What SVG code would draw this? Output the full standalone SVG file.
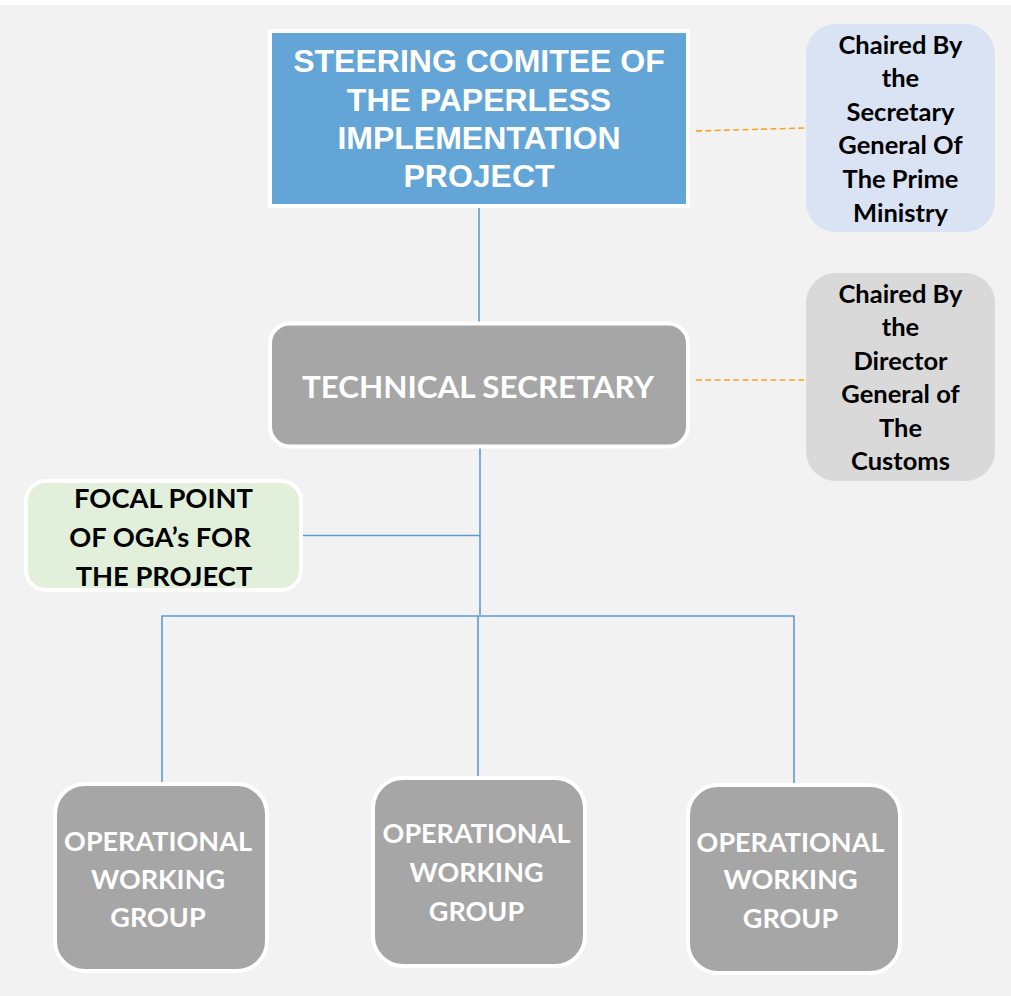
<svg xmlns="http://www.w3.org/2000/svg" width="1011" height="996" viewBox="0 0 1011 996">
<style>
.conn{fill:none;stroke:#5b9bd5;stroke-width:1.6}
.dash{fill:none;stroke:#f5a21f;stroke-width:1.6;stroke-dasharray:6 3.3}
.box{stroke:#ffffff;stroke-width:4}
.grey{fill:#a6a6a6}
.wt{fill:#ffffff;font-family:Lato,"Open Sans",sans-serif;font-weight:bold;text-anchor:middle}
.bt{fill:#000000;font-family:Lato,"Open Sans",sans-serif;font-weight:bold;text-anchor:middle}
.at{fill:#ffffff;font-family:"Liberation Sans",Arial,sans-serif;font-weight:bold;text-anchor:middle;font-size:32px}
</style>
<rect x="0" y="0" width="1011" height="996" fill="#ffffff"/>
<rect x="0" y="5" width="1011" height="991" fill="#f2f2f2"/>
<g id="connectors">
<line class="conn" x1="479" y1="208" x2="479" y2="323"/>
<polyline class="conn" points="480,447 480,615"/>
<line class="conn" x1="302" y1="535.5" x2="480" y2="535.5"/>
<polyline class="conn" points="162,783 162,616 794,616 794,785"/>
<line class="conn" x1="478" y1="616" x2="478" y2="778"/>
<line class="dash" x1="696" y1="131" x2="805" y2="128"/>
<line class="dash" x1="696" y1="380" x2="805" y2="380"/>
</g>
<g id="steering">
<rect class="box" x="270" y="31" width="418" height="175" fill="#62a5d6"/>
<text class="at" x="479" y="72">STEERING COMITEE OF</text>
<text class="at" x="479" y="110.5">THE PAPERLESS</text>
<text class="at" x="479" y="149">IMPLEMENTATION</text>
<text class="at" x="479" y="187">PROJECT</text>
</g>
<g id="chair1">
<rect x="806" y="24" width="189" height="208" rx="30" fill="#dae3f3"/>
<g class="bt" font-size="25.5">
<text x="900.5" y="54">Chaired By</text>
<text x="900.5" y="87">the</text>
<text x="900.5" y="121">Secretary</text>
<text x="900.5" y="154">General Of</text>
<text x="900.5" y="188">The Prime</text>
<text x="900.5" y="221.5">Ministry</text>
</g>
</g>
<g id="technical">
<rect class="box grey" x="270" y="323.5" width="418" height="123" rx="20"/>
<text class="wt" x="478" y="398" font-size="31.4">TECHNICAL SECRETARY</text>
</g>
<g id="chair2">
<rect x="806" y="273" width="189" height="208" rx="30" fill="#d9d9d9"/>
<g class="bt" font-size="25.5">
<text x="900.5" y="303">Chaired By</text>
<text x="900.5" y="336">the</text>
<text x="900.5" y="370">Director</text>
<text x="900.5" y="403">General of</text>
<text x="900.5" y="437">The</text>
<text x="900.5" y="470">Customs</text>
</g>
</g>
<g id="focal">
<rect class="box" x="26" y="481" width="275" height="109" rx="20" fill="#e2efda"/>
<g class="bt" font-size="27.3">
<text x="163.5" y="508">FOCAL POINT</text>
<text x="160" y="547">OF OGA’s FOR</text>
<text x="164" y="586">THE PROJECT</text>
</g>
</g>
<g id="owg1">
<rect class="box grey" x="55" y="784" width="212" height="187" rx="30"/>
<g class="wt" font-size="27">
<text x="158" y="851">OPERATIONAL</text>
<text x="158" y="889">WORKING</text>
<text x="158" y="927">GROUP</text>
</g>
</g>
<g id="owg2">
<rect class="box grey" x="373" y="778" width="212" height="188" rx="30"/>
<g class="wt" font-size="27">
<text x="476.5" y="843">OPERATIONAL</text>
<text x="476.5" y="882">WORKING</text>
<text x="476.5" y="921">GROUP</text>
</g>
</g>
<g id="owg3">
<rect class="box grey" x="688" y="785" width="212" height="188" rx="30"/>
<g class="wt" font-size="27">
<text x="790.5" y="852">OPERATIONAL</text>
<text x="790.5" y="889">WORKING</text>
<text x="790.5" y="928">GROUP</text>
</g>
</g>
</svg>
